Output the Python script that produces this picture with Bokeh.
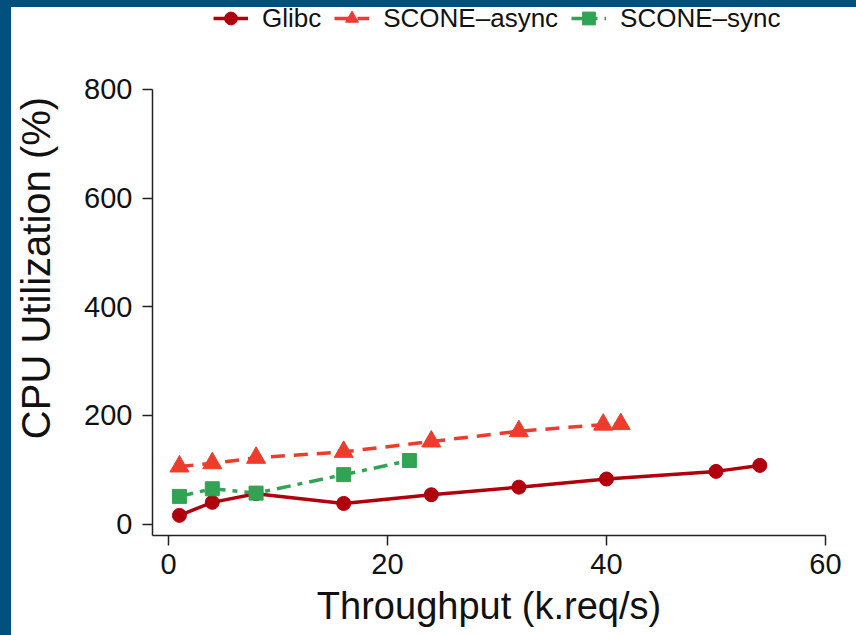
from bokeh.plotting import figure
from bokeh.models import Range1d, Legend, LegendItem, Spacer, FixedTicker
from bokeh.layouts import column, row
from bokeh.embed import file_html
from bokeh.resources import INLINE

# Throughput (k.req/s) vs CPU utilization (%)
glibc_x = [1, 4, 8, 16, 24, 32, 40, 50, 54]
glibc_y = [16, 40, 56, 38, 54, 68, 83, 97, 108]

async_x = [1, 4, 8, 16, 24, 32, 39.7, 41.3]
async_y = [106, 112, 122, 133, 152, 171, 183, 184]

sync_x = [1, 4, 8, 16, 22]
sync_y = [51, 65, 57, 91, 117]

x_ticks = [0, 20, 40, 60]
y_ticks = [0, 200, 400, 600, 800]

GLIBC_COLOR = "#B0000E"
ASYNC_COLOR = "#EF3B2C"
SYNC_COLOR = "#31A354"
BAND_COLOR = "#02507E"
FONT = "Liberation Sans"

# the frame reaches the top edge so the legend can sit above the 800 mark;
# the y axis itself is bounded to the data span.  The plot is transparent
# so the top band shows through behind it.
p = figure(
    width=845, height=635,
    x_range=Range1d(-1.46, 60), y_range=Range1d(-21, 963.7),
    output_backend="svg", toolbar_location=None,
    min_border_left=141, min_border_right=31,
    min_border_top=0, min_border_bottom=100,
    background_fill_alpha=0, border_fill_alpha=0,
)
p.outline_line_color = None
p.xgrid.visible = False
p.ygrid.visible = False

for ax in (p.xaxis[0], p.yaxis[0]):
    ax.axis_line_color = "#222222"
    ax.axis_line_width = 1.5
    ax.major_tick_line_color = "#222222"
    ax.major_tick_line_width = 1.5
    ax.major_tick_out = 10
    ax.major_tick_in = 0
    ax.minor_tick_line_color = None
    ax.major_label_text_font = FONT
    ax.major_label_text_font_size = "29px"
    ax.major_label_text_color = "#111111"
    ax.axis_label_text_font = FONT
    ax.axis_label_text_font_style = "normal"
    ax.axis_label_text_color = "#111111"

p.yaxis.bounds = (-21, 800)
p.xaxis.axis_label_text_font_size = "38px"
p.yaxis.axis_label_text_font_size = "40px"
p.xaxis.ticker = FixedTicker(ticks=x_ticks)
p.yaxis.ticker = FixedTicker(ticks=y_ticks)
p.xaxis.major_label_standoff = 8
p.yaxis.major_label_standoff = 10
p.xaxis.axis_label = "Throughput (k.req/s)"
p.yaxis.axis_label = "CPU Utilization (%)"
p.xaxis.axis_label_standoff = 8
p.yaxis.axis_label_standoff = 23

# series
g_line = p.line(glibc_x, glibc_y, line_color=GLIBC_COLOR, line_width=3.5)
g_pts = p.scatter(glibc_x, glibc_y, marker="circle", size=14,
                  fill_color=GLIBC_COLOR, line_color=GLIBC_COLOR)

a_line = p.line(async_x, async_y, line_color=ASYNC_COLOR, line_width=3.5,
                line_dash="14 9")
a_pts = p.scatter(async_x, async_y, marker="triangle", size=19,
                  fill_color=ASYNC_COLOR, line_color=ASYNC_COLOR)

s_line = p.line(sync_x, sync_y, line_color=SYNC_COLOR, line_width=3.5,
                line_dash="14 7 5 7")
s_pts = p.scatter(sync_x, sync_y, marker="square", size=14,
                  fill_color=SYNC_COLOR, line_color=SYNC_COLOR)

legend = Legend(
    items=[
        LegendItem(label="Glibc", renderers=[g_line, g_pts]),
        LegendItem(label="SCONE\u2013async", renderers=[a_line, a_pts]),
        LegendItem(label="SCONE\u2013sync", renderers=[s_line, s_pts]),
    ],
    location=(61, 501),
    orientation="horizontal",
    border_line_color=None,
    background_fill_alpha=0,
    padding=0, margin=0,
    spacing=13, label_standoff=14,
    glyph_width=35, glyph_height=32,
    label_height=20,
    label_text_font=FONT,
    label_text_font_size="26px",
    label_text_color="#111111",
)
p.add_layout(legend)

# dark frame strips along the top and left edges of the page
top_band = Spacer(width=856, height=7,
                  styles={"background-color": BAND_COLOR, "margin-bottom": "-7px"})
left_band = Spacer(width=11, height=635, styles={"background-color": BAND_COLOR})
page = column(top_band, row(left_band, p, spacing=0), spacing=0,
              styles={"background-color": "white"})

open("out.html", "w").write(file_html(page, INLINE))
